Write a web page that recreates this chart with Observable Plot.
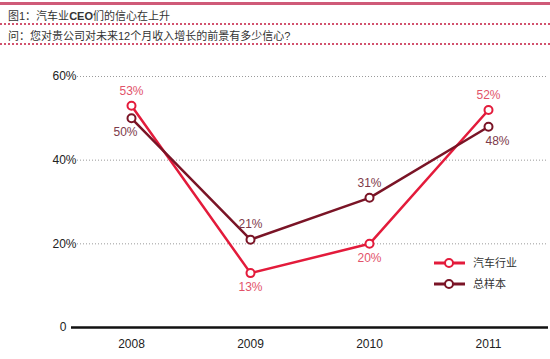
<!DOCTYPE html>
<html><head><meta charset="utf-8">
<script src="https://cdn.jsdelivr.net/npm/d3@7"></script>
<script src="https://cdn.jsdelivr.net/npm/@observablehq/plot@0.6"></script>
<style>
html,body{margin:0;padding:0;background:#fff;}
#wrap{position:relative;width:550px;height:359px;overflow:hidden;font-family:"Liberation Sans",Arial,"Noto Sans CJK SC",sans-serif;}
.hdr{position:absolute;left:0;width:550px;}
#topline{top:2px;height:3px;background:#cf5a78;}
.dots{height:0;border-top:2px dotted #d2526e;}
.htxt{position:absolute;left:8px;font-size:11px;color:#333;font-family:"Liberation Sans",Arial,"Noto Sans CJK SC",sans-serif;white-space:nowrap;}
#chart{position:absolute;left:0;top:48px;}
#legend{position:absolute;left:0;top:0;}
</style></head>
<body>
<div id="wrap">
  <div class="hdr" id="topline"></div>
  <div class="htxt" id="title" style="top:7px;"></div>
  <div class="hdr dots" style="top:23px;"></div>
  <div class="htxt" id="subtitle" style="top:27px;"></div>
  <div class="hdr dots" style="top:43px;"></div>
  <div id="chart"></div>
  <svg id="legend" width="550" height="359"></svg>
</div>
<script>
const titleText = "图1：汽车业CEO们的信心在上升";
const subtitleText = "问：您对贵公司对未来12个月收入增长的前景有多少信心?";
const years = ["2008", "2009", "2010", "2011"];
const seriesNames = ["汽车行业", "总样本"];
const autoValues = [0.53, 0.13, 0.20, 0.52];
const totalValues = [0.50, 0.21, 0.31, 0.48];
const yTicks = [0, 0.2, 0.4, 0.6];
const seriesColors = ["#e31b3b", "#7a1426"];
const labelColors = ["#e2536a", "#7d3a4a"];

// title with bold Latin word (CEO)
const titleEl = document.getElementById("title");
titleText.split(/([A-Z]+)/).forEach(part => {
  if (!part) return;
  if (/^[A-Z]+$/.test(part)) {
    const b = document.createElement("b");
    b.textContent = part;
    titleEl.appendChild(b);
  } else {
    titleEl.appendChild(document.createTextNode(part));
  }
});
document.getElementById("subtitle").textContent = subtitleText;

const valuesBySeries = [autoValues, totalValues];
const data = [];
seriesNames.forEach((s, si) => {
  years.forEach((y, yi) => {
    const v = valuesBySeries[si][yi];
    const other = valuesBySeries[1 - si][yi];
    data.push({series: s, year: y, value: v, above: v >= other, idx: yi});
  });
});
const colorScale = {domain: seriesNames, range: seriesColors};
const labelColor = d => labelColors[seriesNames.indexOf(d.series)];
const pct = v => Math.round(v * 100) + "%";
const last = years.length - 1;

const chart = Plot.plot({
  width: 550,
  height: 311,
  marginLeft: 70,
  marginRight: 2,
  marginTop: 28,
  marginBottom: 32,
  style: {fontFamily: "'Liberation Sans', Arial, sans-serif", fontSize: "12px", color: "#222", background: "transparent"},
  x: {type: "point", domain: years, padding: 0.5, label: null},
  y: {domain: [0, 0.6], label: null},
  color: colorScale,
  marks: [
    Plot.ruleY(yTicks.filter(t => t > 0), {stroke: "#9a9a9a", strokeWidth: 1, strokeDasharray: "1,2", insetLeft: 7}),
    Plot.ruleY([0], {stroke: "#111", strokeWidth: 2.5, insetLeft: 1}),
    Plot.axisY(yTicks.filter(t => t > 0), {tickSize: 0, tickPadding: -6, tickFormat: pct, fontSize: 12, fill: "#222"}),
    Plot.axisY([0], {tickSize: 0, tickPadding: 4, tickFormat: () => "0", fontSize: 12, fill: "#222"}),
    Plot.axisX({tickSize: 0, tickPadding: 12, fontSize: 12, fill: "#222"}),
    Plot.line(data, {x: "year", y: "value", z: "series", stroke: "series", strokeWidth: 2.5}),
    Plot.dot(data, {x: "year", y: "value", stroke: "series", fill: "white", r: 4, strokeWidth: 2}),
    Plot.text(data.filter(d => d.above), {x: "year", y: "value", text: d => pct(d.value), fill: labelColor, dy: -15, fontSize: 12}),
    Plot.text(data.filter(d => !d.above && d.idx === 0), {x: "year", y: "value", text: d => pct(d.value), fill: labelColor, dy: 14, dx: -6, fontSize: 12}),
    Plot.text(data.filter(d => !d.above && d.idx === last), {x: "year", y: "value", text: d => pct(d.value), fill: labelColor, dy: 14, dx: 9, fontSize: 12}),
    Plot.text(data.filter(d => !d.above && d.idx > 0 && d.idx < last), {x: "year", y: "value", text: d => pct(d.value), fill: labelColor, dy: 14, fontSize: 12})
  ]
});
document.getElementById("chart").appendChild(chart);

// legend
const leg = d3.select("#legend");
seriesNames.forEach((s, i) => {
  const y = 263 + i * 21;
  const g = leg.append("g");
  g.append("line").attr("x1", 434).attr("x2", 465).attr("y1", y).attr("y2", y)
    .attr("stroke", seriesColors[i]).attr("stroke-width", 3);
  g.append("circle").attr("cx", 449).attr("cy", y).attr("r", 4)
    .attr("fill", "white").attr("stroke", seriesColors[i]).attr("stroke-width", 2);
  g.append("text").attr("x", 473).attr("y", y).attr("dy", "0.35em")
    .attr("font-size", 11).attr("fill", "#333")
    .attr("font-family", "'Noto Sans CJK SC', sans-serif").text(s);
});
</script>
</body></html>
